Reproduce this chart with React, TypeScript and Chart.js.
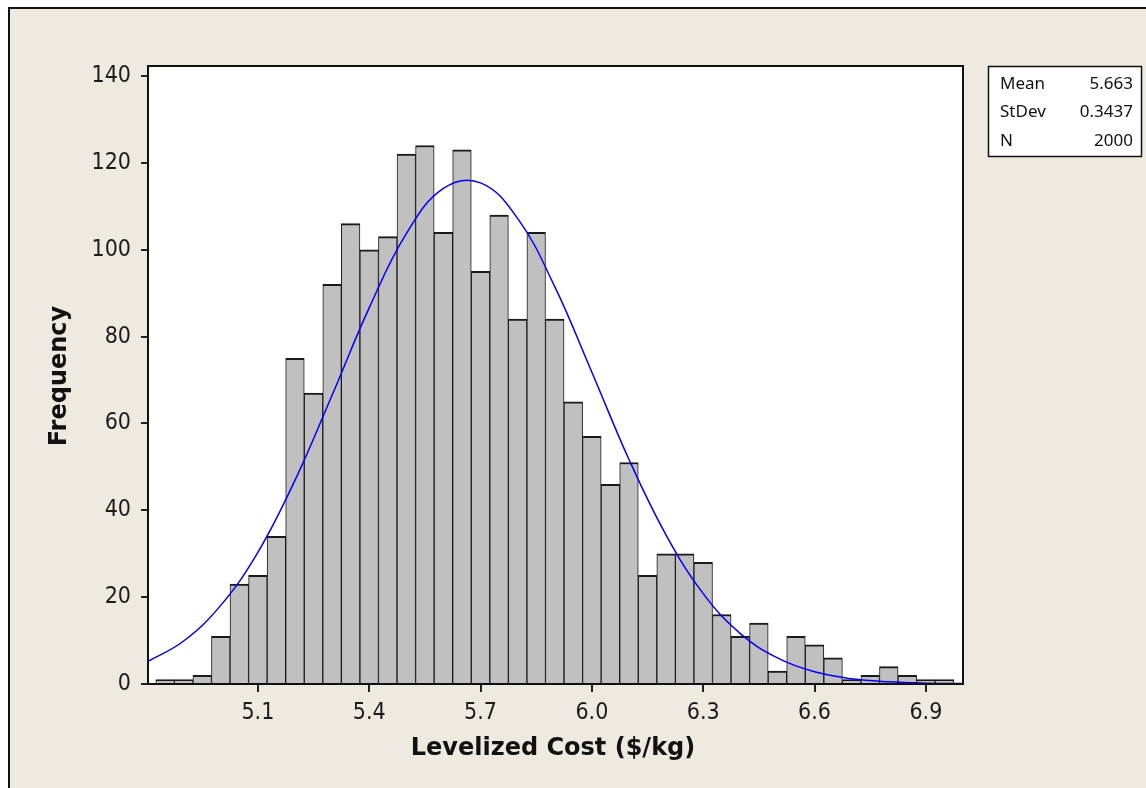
import { useEffect, useRef } from "react";
import { Chart, registerables } from "chart.js";

Chart.register(...registerables);

// Histogram bins (centres, width 0.05) and counts
const binCenters = [
  4.85, 4.9, 4.95, 5.0, 5.05, 5.1, 5.15, 5.2, 5.25, 5.3, 5.35, 5.4, 5.45, 5.5,
  5.55, 5.6, 5.65, 5.7, 5.75, 5.8, 5.85, 5.9, 5.95, 6.0, 6.05, 6.1, 6.15, 6.2,
  6.25, 6.3, 6.35, 6.4, 6.45, 6.5, 6.55, 6.6, 6.65, 6.7, 6.75, 6.8, 6.85, 6.9,
  6.95,
];
const frequencies = [
  1, 1, 2, 11, 23, 25, 34, 75, 67, 92, 106, 100, 103, 122, 124, 104, 123, 95,
  108, 84, 104, 84, 65, 57, 46, 51, 25, 30, 30, 28, 16, 11, 14, 3, 11, 9, 6, 1,
  2, 4, 2, 1, 1,
];

// Fitted normal curve
const curveX = [
  4.8, 4.9, 5.0, 5.1, 5.2, 5.3, 5.4, 5.5, 5.6, 5.7, 5.8, 5.9, 6.0, 6.1, 6.2,
  6.3, 6.4, 6.5, 6.6, 6.7, 6.8, 6.9, 7.0,
];
const curveY = [
  5.0, 9.9, 18.1, 30.3, 46.9, 66.5, 86.6, 103.7, 114.1, 115.4, 107.2, 91.5,
  71.8, 51.7, 34.3, 20.8, 11.6, 6.0, 2.8, 1.2, 0.5, 0.2, 0.1,
];

const xTickValues = [5.1, 5.4, 5.7, 6.0, 6.3, 6.6, 6.9];
const yTickValues = [0, 20, 40, 60, 80, 100, 120, 140];

const statLabels = ["Mean", "StDev", "N"];
const statValues = ["5.663", "0.3437", "2000"];

const xAxisTitle = "Levelized Cost ($/kg)";
const yAxisTitle = "Frequency";

const W = 1146;
const H = 788;
const REG_FONT = '"DejaVu Sans Condensed", "Noto Sans", sans-serif';
const BOX_FONT = '"Noto Sans", sans-serif';
const BOLD_FONT = '"DejaVu Sans", sans-serif';

export default function App() {
  const ref = useRef<HTMLCanvasElement | null>(null);

  useEffect(() => {
    if (!ref.current) return;

    const deco = {
      id: "deco",
      beforeDraw(chart: any) {
        const ctx = chart.ctx;
        const a = chart.chartArea;
        ctx.save();
        ctx.fillStyle = "#ffffff";
        ctx.fillRect(0, 0, W, H);
        ctx.fillStyle = "#EEEAE0";
        ctx.fillRect(9, 8, W - 9, H - 8);
        ctx.strokeStyle = "#111111";
        ctx.lineWidth = 2;
        ctx.beginPath();
        ctx.moveTo(9, H);
        ctx.lineTo(9, 8);
        ctx.lineTo(W, 8);
        ctx.stroke();
        ctx.fillStyle = "#ffffff";
        ctx.fillRect(a.left, a.top, a.right - a.left, a.bottom - a.top);
        ctx.restore();
      },
      afterDraw(chart: any) {
        const ctx = chart.ctx;
        const a = chart.chartArea;
        ctx.save();
        // plot frame
        ctx.strokeStyle = "#111111";
        ctx.lineWidth = 2;
        ctx.strokeRect(a.left, a.top, a.right - a.left, a.bottom - a.top);

        // stats box
        ctx.fillStyle = "#ffffff";
        ctx.fillRect(988, 66, 154, 91);
        ctx.lineWidth = 1.5;
        ctx.strokeRect(988.5, 66.5, 153, 90);
        ctx.fillStyle = "#111111";
        ctx.font = `17px ${BOX_FONT}`;
        ctx.textBaseline = "middle";
        const rows = [84, 112, 141];
        statLabels.forEach((lab, i) => {
          ctx.textAlign = "left";
          ctx.fillText(lab, 1000, rows[i]);
          ctx.textAlign = "right";
          ctx.fillText(statValues[i], 1133, rows[i]);
        });

        // axis titles
        ctx.fillStyle = "#111111";
        ctx.font = `bold 24px ${BOLD_FONT}`;
        ctx.textBaseline = "alphabetic";
        ctx.textAlign = "center";
        ctx.fillText(xAxisTitle, 553, 755);
        ctx.translate(66, 376);
        ctx.rotate(-Math.PI / 2);
        ctx.fillText(yAxisTitle, 0, 0);
        ctx.restore();
      },
    };

    const chart = new Chart(ref.current, {
      type: "bar",
      data: {
        datasets: [
          {
            type: "line",
            data: curveX.map((x, i) => ({ x, y: curveY[i] })),
            borderColor: "#0000FF",
            borderWidth: 1.5,
            pointRadius: 0,
            tension: 0.4,
            fill: false,
            order: 0,
            clip: 0,
          } as any,
          {
            type: "bar",
            data: binCenters.map((x, i) => ({ x, y: frequencies[i] })),
            backgroundColor: "#C0C0C0",
            borderColor: "#1a1a1a",
            borderWidth: { top: 2, left: 1, right: 1, bottom: 0 },
            borderSkipped: false,
            barPercentage: 1,
            categoryPercentage: 1,
            order: 1,
          } as any,
        ],
      },
      plugins: [deco],
      options: {
        responsive: false,
        animation: false,
        devicePixelRatio: 1,
        layout: { padding: { left: 0, top: 66, right: 183, bottom: 0 } },
        plugins: {
          legend: { display: false },
          tooltip: { enabled: false },
        },
        scales: {
          x: {
            type: "linear",
            min: 4.804,
            max: 7.0,
            offset: false,
            afterBuildTicks: (s: any) => {
              s.ticks = xTickValues.map((v) => ({ value: v }));
            },
            afterFit: (s: any) => {
              s.height = 104;
            },
            grid: {
              display: true,
              offset: false,
              drawOnChartArea: false,
              drawTicks: true,
              tickLength: 8,
              color: "#222222",
              lineWidth: 2,
            },
            border: { display: false },
            ticks: {
              font: { family: REG_FONT, size: 23 },
              color: "#1b1b1b",
              padding: 7,
              maxRotation: 0,
              autoSkip: false,
              callback: (v: any) => Number(v).toFixed(1),
            },
          },
          y: {
            type: "linear",
            min: 0,
            max: 142.3,
            afterBuildTicks: (s: any) => {
              s.ticks = yTickValues.map((v) => ({ value: v }));
            },
            afterFit: (s: any) => {
              s.width = 148;
            },
            grid: {
              display: true,
              drawOnChartArea: false,
              drawTicks: true,
              tickLength: 7,
              color: "#222222",
              lineWidth: 2,
            },
            border: { display: false },
            ticks: {
              font: { family: REG_FONT, size: 23 },
              color: "#1b1b1b",
              padding: 10,
              autoSkip: false,
              callback: (v: any) => String(v),
            },
          },
        },
      } as any,
    });

    return () => chart.destroy();
  }, []);

  return (
    <div style={{ position: "fixed", left: 0, top: 0, width: W, height: H }}>
      <canvas ref={ref} width={W} height={H} style={{ display: "block" }} />
    </div>
  );
}
